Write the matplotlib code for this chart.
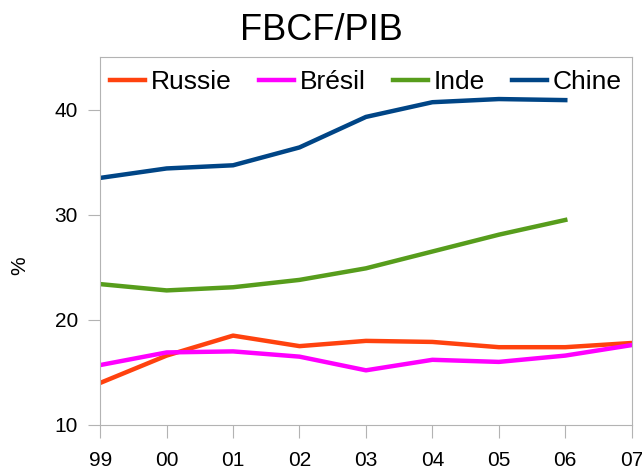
import matplotlib.pyplot as plt

plt.rcParams['font.family'] = ['Liberation Sans', 'DejaVu Sans']

years = ['99', '00', '01', '02', '03', '04', '05', '06', '07']
russie = [14.0, 16.6, 18.5, 17.5, 18.0, 17.9, 17.4, 17.4, 17.8]
bresil = [15.7, 16.9, 17.0, 16.5, 15.2, 16.2, 16.0, 16.6, 17.6]
inde = [23.4, 22.8, 23.1, 23.8, 24.9, 26.5, 28.1, 29.5]
chine = [33.5, 34.4, 34.7, 36.4, 39.3, 40.7, 41.0, 40.9]

fig = plt.figure(figsize=(6.42, 4.73), dpi=100)
ax = fig.add_axes([0.156, 0.1015, 0.828, 0.778])

ax.plot(range(len(russie)), russie, color='#ff420e', lw=3.2, label='Russie')
ax.plot(range(len(bresil)), bresil, color='#ff00ff', lw=3.2, label='Brésil')
ax.plot(range(len(inde)), inde, color='#579d1c', lw=3.2, label='Inde')
ax.plot(range(len(chine)), chine, color='#004586', lw=3.2, label='Chine')

ax.set_xlim(0, len(years) - 1)
ax.set_ylim(10, 45)
ax.set_xticks(range(len(years)))
ax.set_xticklabels(years)
ax.set_yticks([10, 20, 30, 40])

for s in ax.spines.values():
    s.set_color('#b3b3b3')
ax.tick_params(axis='x', length=9, color='#b3b3b3', labelsize=15, pad=10)
ax.tick_params(axis='y', length=9, color='#b3b3b3', labelsize=15, pad=7)

fig.text(20 / 642, 1 - 266 / 473, '%', fontsize=15, rotation=90,
         ha='center', va='center')
fig.suptitle('FBCF/PIB', fontsize=26, y=0.972)

ax.legend(loc='center', ncol=4, frameon=False, fontsize=19,
          handlelength=1.33, handletextpad=0.2, columnspacing=1.05,
          borderpad=0, bbox_to_anchor=(0.5, 0.932))

fig.savefig('out.png', dpi=100)
